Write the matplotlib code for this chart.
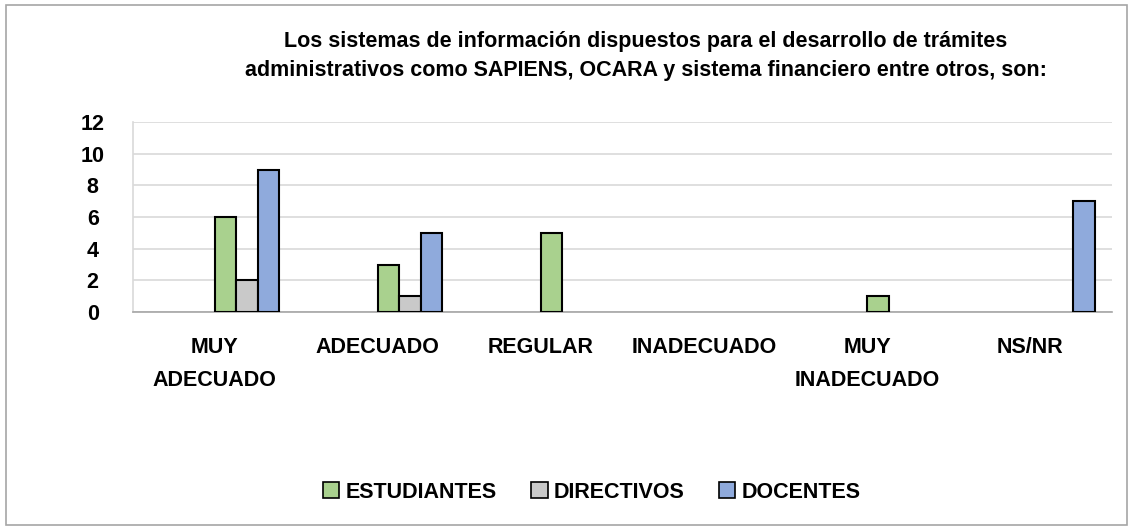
import matplotlib
matplotlib.use("Agg")
import matplotlib.pyplot as plt
from matplotlib.patches import Rectangle, Patch
import numpy as np

categories = ["MUY\nADECUADO", "ADECUADO", "REGULAR", "INADECUADO", "MUY\nINADECUADO", "NS/NR"]
series_names = ["ESTUDIANTES", "DIRECTIVOS", "DOCENTES"]
estudiantes = [6, 3, 5, 0, 1, 0]
directivos = [2, 1, 0, 0, 0, 0]
docentes = [9, 5, 0, 0, 0, 7]
colors = ["#A9D18E", "#C9C9C9", "#8FAADC"]
title = ("Los sistemas de información dispuestos para el desarrollo de trámites\n"
         "administrativos como SAPIENS, OCARA y sistema financiero entre otros, son:")

FAMILY, FS = ['Liberation Sans', 'DejaVu Sans'], 15.5
plt.rcParams['font.family'] = FAMILY
plt.rcParams['font.weight'] = 'bold'

W, H = 1133, 529
fig = plt.figure(figsize=(W / 100, H / 100), dpi=100)
ax = fig.add_axes([133 / W, 1 - 312 / H, (1112 - 133) / W, (312 - 122) / H])

x = np.arange(len(categories))
bw = 0.132
offsets = [0.066, 0.198, 0.330]
for vals, off, c, name in zip([estudiantes, directivos, docentes], offsets, colors, series_names):
    xs = [xi + off for xi, v in zip(x, vals) if v > 0]
    vs = [v for v in vals if v > 0]
    ax.bar(xs, vs, width=bw, color=c, edgecolor="black", linewidth=1.5, zorder=3)

ax.set_xlim(-0.5, len(categories) - 0.5)
ax.set_ylim(0, 12)
ax.set_yticks(range(0, 13, 2))
ax.set_yticklabels([str(v) for v in range(0, 13, 2)], fontsize=FS, fontweight='bold')
ax.set_xticks(x)
ax.set_xticklabels(categories, fontsize=FS, fontweight='bold', linespacing=1.75)
ax.tick_params(axis='x', length=0, pad=18)
ax.tick_params(axis='y', length=0, pad=29)
for lab in ax.get_yticklabels():
    lab.set_horizontalalignment('center')
ax.yaxis.grid(True, color="#D9D9D9", linewidth=1.2, zorder=0)
ax.set_axisbelow(True)
for s in ['top', 'right']:
    ax.spines[s].set_visible(False)
ax.spines['left'].set_color("#D9D9D9")
ax.spines['left'].set_linewidth(1.2)
ax.spines['bottom'].set_color("#A6A6A6")
ax.spines['bottom'].set_linewidth(1.2)

fig.text(646 / W, 1 - 56 / H, title, ha='center', va='center', fontsize=FS,
         fontweight='bold', linespacing=1.55)

handles = [Patch(facecolor=c, edgecolor="black", linewidth=1.2) for c in colors]
fig.legend(handles, series_names, loc='center', bbox_to_anchor=(592 / W, 1 - 492 / H),
           ncol=3, frameon=False, prop={'size': FS, 'weight': 'bold'},
           handlelength=0.75, handleheight=0.75, handletextpad=0.3, columnspacing=1.6)

fig.add_artist(Rectangle((6 / W, 4 / H), (W - 12) / W, (H - 9) / H, transform=fig.transFigure,
                         fill=False, edgecolor="#A6A6A6", linewidth=1.2))

fig.savefig("out.png", dpi=100)
